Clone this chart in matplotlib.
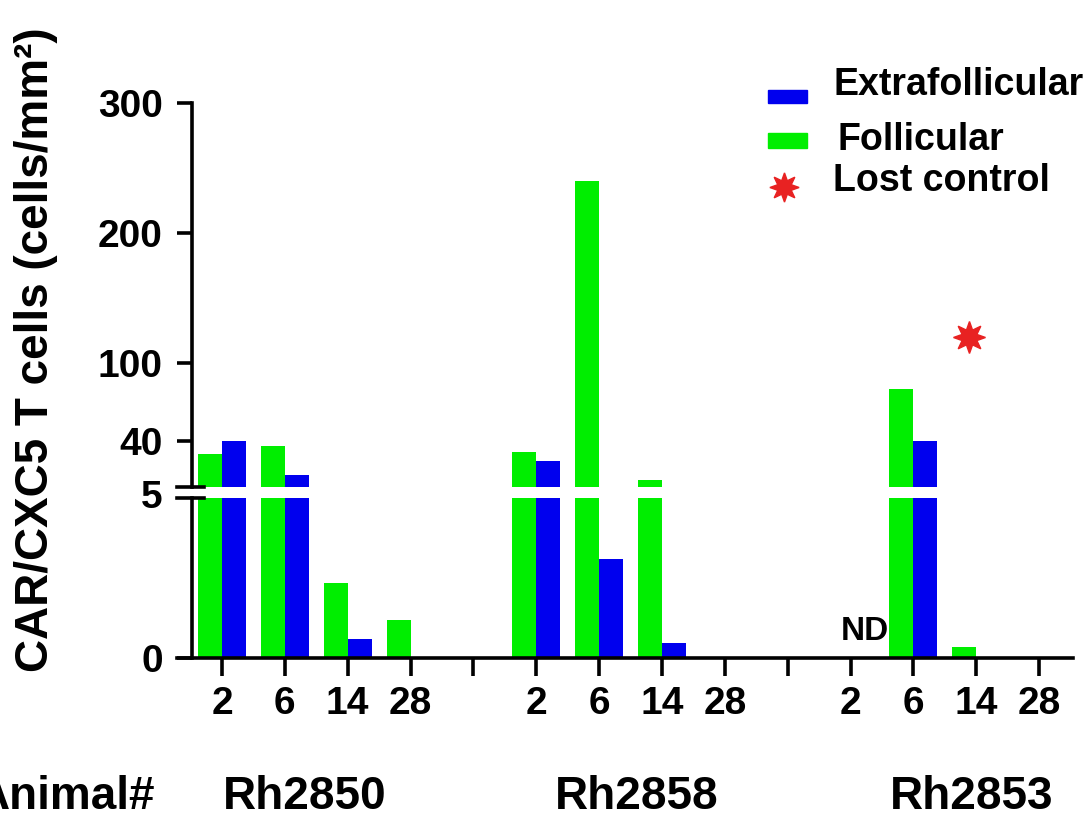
import numpy as np
import matplotlib
matplotlib.use("Agg")
import matplotlib.pyplot as plt
import matplotlib.transforms as mtransforms
from matplotlib.patches import Rectangle
from matplotlib.lines import Line2D

# ---------------- data ----------------
animals = ['Rh2850', 'Rh2858', 'Rh2853']
days = ['2', '6', '14', '28']
extrafollicular = [[40, 14, 0.6, 0],
                   [25, 3.1, 0.47, 0],
                   [np.nan, 40, 0, 0]]
follicular = [[30, 36.5, 2.35, 1.2],
              [32, 240, 10, 0],
              [np.nan, 80, 0.35, 0]]
lost_control_animal = 'Rh2853'
lost_control_day = '14'
lost_control_value = 120
nd_animal = 'Rh2853'
nd_day = '2'
top_ticks = [40, 100, 200, 300]
bottom_ticks = [0, 5]

# ---------------- style ----------------
W, H, DPI = 1091, 821, 100
plt.rcParams['font.family'] = ['Liberation Sans', 'DejaVu Sans']
plt.rcParams['font.weight'] = 'bold'
BLUE = '#0000EE'
GREEN = '#00EE00'
RED = '#E82222'
FS = 28
LW = 2.6

def fx(x):
    return x / W

def fy(y):
    return 1 - y / H

fig = plt.figure(figsize=(W / DPI, H / DPI), dpi=DPI)
left_px, right_px = 177, 1073
ax_top = fig.add_axes([fx(left_px), fy(487), (right_px - left_px) / W, (487 - 103) / H])
ax_bot = fig.add_axes([fx(left_px), fy(658), (right_px - left_px) / W, (658 - 498) / H])

group_step = 5
bw = 0.38
xlim = (-0.716, 13.54)
spine_x = -0.477

for ax in (ax_top, ax_bot):
    for g, a in enumerate(animals):
        base = g * group_step
        xs = np.arange(len(days)) + base
        ax.bar(xs - bw / 2, follicular[g], width=bw, color=GREEN, linewidth=0, zorder=2)
        ax.bar(xs + bw / 2, extrafollicular[g], width=bw, color=BLUE, linewidth=0, zorder=2)
    ax.set_xlim(*xlim)
    ax.spines['right'].set_visible(False)
    ax.spines['top'].set_visible(False)
    ax.spines['left'].set_position(('data', spine_x))
    ax.spines['left'].set_linewidth(LW)
    ax.spines['bottom'].set_linewidth(LW)
    ax.tick_params(axis='y', direction='out', length=11, width=LW, labelsize=FS, pad=10)
    ax.tick_params(axis='x', direction='out', length=13, width=LW, labelsize=FS, pad=7)
    ax.set_facecolor('none')

ax_top.set_ylim(5, 300)
ax_top.set_yticks(top_ticks)
ax_top.set_yticklabels([str(t) for t in top_ticks])
ax_top.spines['bottom'].set_visible(False)
ax_top.set_xticks([])

ax_bot.set_ylim(0, 5)
ax_bot.set_yticks(bottom_ticks)
ax_bot.set_yticklabels([str(t) for t in bottom_ticks])
ax_bot.yaxis.get_major_ticks()[1].tick1line.set_visible(False)
# nudge the "5" label up to sit between the break marks
lab5 = ax_bot.yaxis.get_major_ticks()[1].label1
lab5.set_transform(lab5.get_transform() + mtransforms.ScaledTranslation(0, 4 / DPI, fig.dpi_scale_trans))

xt, xl = [], []
for g in range(len(animals)):
    for j, d in enumerate(days):
        xt.append(g * group_step + j)
        xl.append(d)
    if g < len(animals) - 1:
        xt.append(g * group_step + len(days))
        xl.append('')
ax_bot.set_xticks(xt)
ax_bot.set_xticklabels(xl)

# lost control star
gi = animals.index(lost_control_animal)
sx = gi * group_step + days.index(lost_control_day) - 0.12
ax_top.plot([sx], [lost_control_value], marker=(8, 1, 0), markersize=23,
            color=RED, linestyle='none', zorder=3, clip_on=False)

# ND label
gi = animals.index(nd_animal)
ndx = gi * group_step + days.index(nd_day) + 0.23
ax_bot.text(ndx, 0.33, 'ND', ha='center', va='bottom', fontsize=24, fontweight='bold')

# break marks
for ypx in (487, 498):
    fig.add_artist(Line2D([fx(177), fx(204)], [fy(ypx), fy(ypx)], color='black',
                          linewidth=LW, transform=fig.transFigure))

# animal labels
label_x = [1.32, 6.6, 11.93]
blend = mtransforms.blended_transform_factory(ax_bot.transData, fig.transFigure)
for a, lx in zip(animals, label_x):
    ax_bot.text(lx, fy(797), a, transform=blend,
                ha='center', va='center', fontsize=33, fontweight='bold')
fig.text(fx(155), fy(797), 'Animal#', ha='right', va='center', fontsize=33, fontweight='bold')

# y label
fig.text(fx(36), fy(350), 'CAR/CXC5 T cells (cells/mm\u00b2)', rotation=90,
         ha='center', va='center', fontsize=33, fontweight='bold')

# legend (manual)
fig.add_artist(Rectangle((fx(768), fy(103)), (807 - 768) / W, 13 / H, color=BLUE,
                         transform=fig.transFigure))
fig.add_artist(Rectangle((fx(768), fy(148)), (807 - 768) / W, 15 / H, color=GREEN,
                         transform=fig.transFigure))
fig.add_artist(Line2D([fx(784)], [fy(187)], marker=(8, 1, 0), markersize=21, color=RED,
                      linestyle='none', transform=fig.transFigure))
fig.text(fx(833), fy(85), 'Extrafollicular', ha='left', va='center', fontsize=27, fontweight='bold')
fig.text(fx(837), fy(140), 'Follicular', ha='left', va='center', fontsize=27, fontweight='bold')
fig.text(fx(833), fy(181), 'Lost control', ha='left', va='center', fontsize=27, fontweight='bold')

fig.savefig('out.png', dpi=DPI)
